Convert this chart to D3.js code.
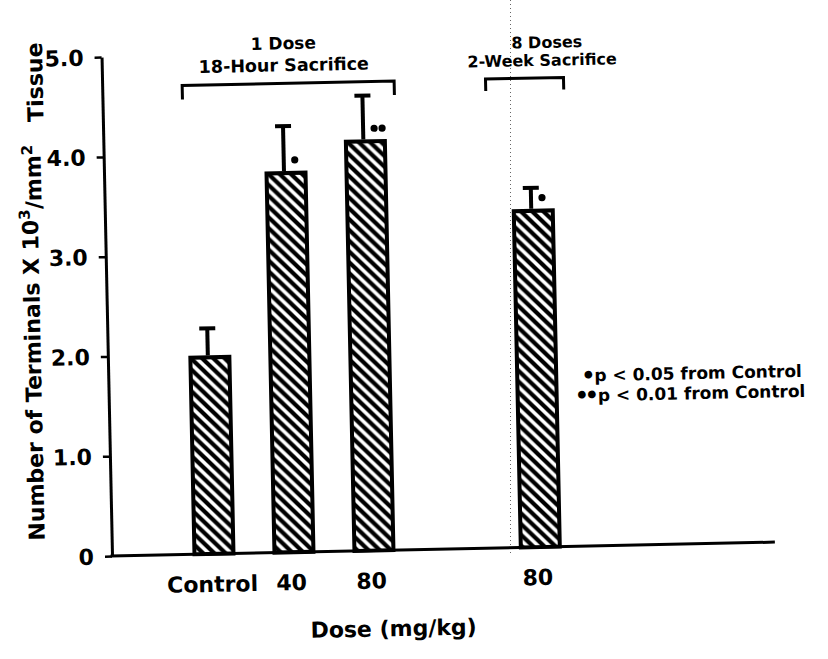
<!DOCTYPE html>
<html>
<head>
<meta charset="utf-8">
<script src="https://cdn.jsdelivr.net/npm/d3@7/dist/d3.min.js"></script>
<style>
  html, body { margin: 0; padding: 0; background: #fff; }
  svg { display: block; }
  text { font-family: "DejaVu Sans", "Liberation Sans", Arial, sans-serif; font-weight: bold; fill: #000; }
</style>
</head>
<body>
<svg id="chart" width="828" height="659"></svg>
<script>
// ---- data ----
const categories = ["Control", "40", "80", "80"];
const groupOf = [0, 0, 0, 1];
const means = [1.97, 3.80, 4.10, 3.37];
const errors = [0.30, 0.48, 0.47, 0.24];
const significance = [0, 1, 2, 1];
const yTickValues = [0, 1, 2, 3, 4, 5];
const yTickLabels = ["0", "1.0", "2.0", "3.0", "4.0", "5.0"];
const groupTitles = [["1 Dose", "18-Hour Sacrifice"], ["8 Doses", "2-Week Sacrifice"]];
const legendMarks = ["\u2022", "\u2022\u2022"];
const legendTexts = ["p < 0.05 from Control", "p < 0.01 from Control"];
const xTitle = "Dose (mg/kg)";

// ---- layout ----
const originX = 112, originY = 556;
const svg = d3.select("#chart");

// scan crease artifact
svg.append("line").attr("x1", 510.5).attr("x2", 510.5).attr("y1", 0).attr("y2", 553)
  .attr("stroke", "#666").attr("stroke-width", 1).attr("stroke-dasharray", "1,3");

const defs = svg.append("defs");
const pat = defs.append("pattern").attr("id", "hatch")
  .attr("patternUnits", "userSpaceOnUse").attr("width", 11).attr("height", 11);
pat.append("rect").attr("width", 11).attr("height", 11).attr("fill", "#fff");
pat.append("path").attr("d", "M-2,-2 L13,13 M-7.5,3.5 L7.5,18.5 M3.5,-7.5 L18.5,7.5")
  .attr("stroke", "#000").attr("stroke-width", 4.2);

const g = svg.append("g").attr("transform", `rotate(-1.2, ${originX}, ${originY})`);

const y = d3.scaleLinear().domain([0, 5]).range([originY, 57]);
const slotGap = 1.08;
const slot = categories.map((c, i) => i + groupOf[i] * slotGap);
const x = d3.scaleLinear().domain([0, 1]).range([214, 294]);
const barW = 39;

// y axis
const yAxis = d3.axisLeft(y).tickValues(yTickValues)
  .tickFormat((d, i) => yTickLabels[i]).tickSize(7).tickSizeOuter(0).tickPadding(11);
const ya = g.append("g").attr("transform", `translate(${originX},0)`).call(yAxis);
ya.select(".domain").attr("stroke", "#000").attr("stroke-width", 3);
ya.selectAll(".tick line").attr("stroke", "#000").attr("stroke-width", 2.5);
ya.selectAll(".tick text").attr("font-size", 22).attr("font-family", null).attr("dy", "0.35em");

// baseline
g.append("line").attr("x1", originX - 1.5).attr("x2", 775).attr("y1", originY).attr("y2", originY)
  .attr("stroke", "#000").attr("stroke-width", 3);

// bars
g.selectAll("rect.bar").data(means).join("rect").attr("class", "bar")
  .attr("x", (d, i) => x(slot[i]) - barW / 2)
  .attr("width", barW)
  .attr("y", d => y(d))
  .attr("height", d => y(0) - y(d))
  .attr("fill", "url(#hatch)").attr("stroke", "#000").attr("stroke-width", 4);

// error bars (upper only)
const eb = g.selectAll("g.err").data(means).join("g").attr("class", "err");
eb.append("line")
  .attr("x1", (d, i) => x(slot[i]) - 2).attr("x2", (d, i) => x(slot[i]) - 2)
  .attr("y1", d => y(d) - 2).attr("y2", (d, i) => y(d + errors[i]))
  .attr("stroke", "#000").attr("stroke-width", 4);
eb.append("line")
  .attr("x1", (d, i) => x(slot[i]) - 10).attr("x2", (d, i) => x(slot[i]) + 6)
  .attr("y1", (d, i) => y(d + errors[i]) + 1).attr("y2", (d, i) => y(d + errors[i]) + 1)
  .attr("stroke", "#000").attr("stroke-width", 4);

// significance dots
means.forEach((m, i) => {
  for (let k = 0; k < significance[i]; k++) {
    g.append("circle").attr("cx", x(slot[i]) + 9 + k * 8).attr("cy", y(m) - 13)
      .attr("r", 3.6).attr("fill", "#000");
  }
});

// x tick labels
g.selectAll("text.xl").data(categories).join("text").attr("class", "xl")
  .attr("x", (d, i) => x(slot[i]) - (i === 0 ? 2 : 3))
  .attr("y", originY + 38)
  .attr("text-anchor", "middle").attr("font-size", 22).text(d => d);

// x title
g.append("text").attr("x", 392).attr("y", originY + 86).attr("text-anchor", "middle")
  .attr("font-size", 22).text(xTitle);

// y title
const yt = g.append("text").attr("transform", `translate(45, 290) rotate(-90)`)
  .attr("text-anchor", "middle").attr("font-size", 22);
yt.append("tspan").text("Number of Terminals X 10");
yt.append("tspan").attr("dy", "-0.55em").attr("font-size", 15).text("3");
yt.append("tspan").attr("dy", "0.55em").text("/mm");
yt.append("tspan").attr("dy", "-0.55em").attr("font-size", 15).text("2");
yt.append("tspan").attr("dy", "0.55em").text("\u00a0\u00a0\u00a0Tissue");

// group brackets
const bracketPad = [[-22, 30], [-45, 33]];
const textShift = [0, 12];
[0, 1].forEach(gi => {
  const idx = categories.map((c, i) => i).filter(i => groupOf[i] === gi);
  const x0 = x(slot[idx[0]]) + bracketPad[gi][0];
  const x1 = x(slot[idx[idx.length - 1]]) + bracketPad[gi][1];
  const by = 87, legH = gi === 0 ? 14 : 12;
  g.append("path").attr("d", `M${x0},${by + legH} V${by} H${x1} V${by + legH}`)
    .attr("fill", "none").attr("stroke", "#000").attr("stroke-width", 3);
  const cx = (x(slot[idx[0]]) + x(slot[idx[idx.length - 1]])) / 2 + textShift[gi];
  g.append("text").attr("x", cx + (gi === 1 ? 5 : 0)).attr("y", gi === 0 ? 53 : 57).attr("text-anchor", "middle")
    .attr("font-size", gi === 0 ? 17 : 16).text(groupTitles[gi][0]);
  g.append("text").attr("x", cx).attr("y", gi === 0 ? 75 : 75).attr("text-anchor", "middle")
    .attr("font-size", gi === 0 ? 17.5 : 16).text(groupTitles[gi][1]);
});

// legend
legendTexts.forEach((t, i) => {
  const tx = g.append("text").attr("x", i === 0 ? 585 : 578).attr("y", 391 + i * 20)
    .attr("font-size", 17);
  tx.append("tspan").attr("font-size", 22).attr("letter-spacing", -4).attr("dy", "0.08em").text(legendMarks[i]);
  tx.append("tspan").attr("dy", "-0.08em").attr("dx", 3).attr("font-size", 17).text(t);
});
</script>
</body>
</html>
